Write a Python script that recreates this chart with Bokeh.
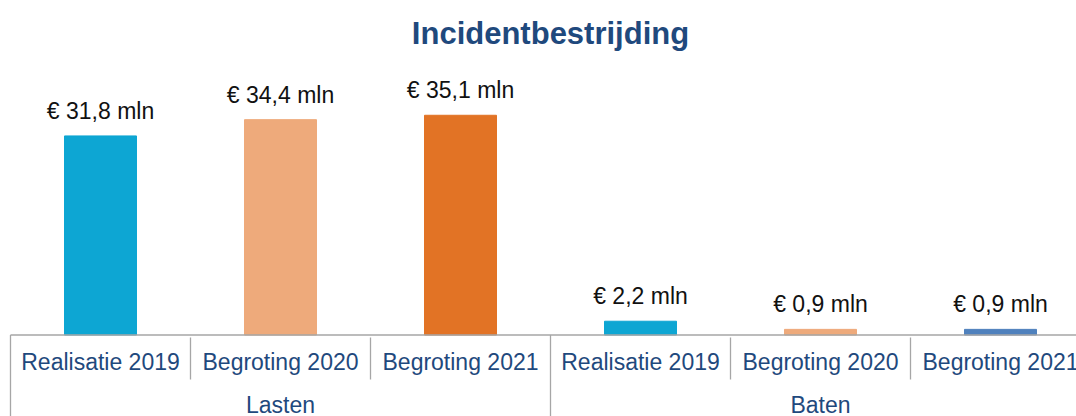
from bokeh.plotting import figure
from bokeh.models import ColumnDataSource, Range1d, LabelSet, Label
from bokeh.core.properties import value
from bokeh.embed import file_html
from bokeh.resources import INLINE

# ---- data ----
groups = ["Lasten", "Baten"]
categories = ["Realisatie 2019", "Begroting 2020", "Begroting 2021",
              "Realisatie 2019", "Begroting 2020", "Begroting 2021"]
group_of = ["Lasten", "Lasten", "Lasten", "Baten", "Baten", "Baten"]
amounts = [31.8, 34.4, 35.1, 2.2, 0.9, 0.9]
amount_labels = ["€ 31,8 mln", "€ 34,4 mln", "€ 35,1 mln",
                 "€ 2,2 mln", "€ 0,9 mln", "€ 0,9 mln"]
colors = ["#0DA6D3", "#EEAA7B", "#E27325", "#0DA6D3", "#EEAA7B", "#4F81BD"]
title_text = "Incidentbestrijding"

# ---- layout constants ----
W, H = 1076, 416
CAT_PX = 180.0          # width of one category in pixels
LEFT_PX = 10.0          # left edge of first category
BASE_PX = 334.5         # pixel row of the value axis baseline
PX_PER_UNIT = 6.26      # pixels per million euro

def ypix(py):
    return (BASE_PX - py) / PX_PER_UNIT

xs = list(range(len(categories)))

p = figure(width=W, height=H, output_backend="svg", toolbar_location=None,
           min_border=0, min_border_left=0, min_border_right=0,
           min_border_top=0, min_border_bottom=0)
p.x_range = Range1d(-0.5 - LEFT_PX / CAT_PX, -0.5 + (W - LEFT_PX) / CAT_PX)
p.y_range = Range1d(ypix(H), ypix(0))
p.axis.visible = False
p.grid.visible = False
p.outline_line_color = None
p.background_fill_color = "white"
p.border_fill_color = "white"

src = ColumnDataSource(dict(x=xs, top=amounts, color=colors, label=amount_labels,
                            cat=categories, grp=group_of))

p.vbar(x="x", top="top", bottom=0, width=0.4, color="color", source=src)

labels = LabelSet(x="x", y="top", text="label", source=src, y_offset=17,
                  text_align="center", text_baseline="alphabetic",
                  text_font=value("Liberation Sans"), text_font_size="23px",
                  text_color="#111111")
p.add_layout(labels)

GRID = "#A6A6A6"
# baseline of the category axis
p.segment(x0=[-0.5], y0=[0], x1=[len(categories) - 0.5], y1=[0],
          line_color=GRID, line_width=1.3)
# separators between categories
minor = [i + 0.5 for i in xs[:-1] if group_of[i] == group_of[i + 1]]
p.segment(x0=minor, y0=[ypix(337)] * len(minor), x1=minor, y1=[ypix(379)] * len(minor),
          line_color=GRID, line_width=1.3)
major = [-0.5] + [i + 0.5 for i in xs[:-1] if group_of[i] != group_of[i + 1]]
p.segment(x0=major, y0=[0] * len(major), x1=major, y1=[ypix(H + 5)] * len(major),
          line_color=GRID, line_width=1.3)

# category tick labels
p.text(x="x", y=ypix(361), text="cat", source=src, text_align="center",
       text_baseline="alphabetic", text_font=value("Liberation Sans"),
       text_font_size="23px", text_color="#1F497D")

# group labels
gx = [sum(i for i in xs if group_of[i] == g) / group_of.count(g) for g in groups]
p.text(x=gx, y=[ypix(404)] * len(groups), text=groups, text_align="center",
       text_baseline="alphabetic", text_font=value("Liberation Sans"),
       text_font_size="23px", text_color="#1F497D")

title = Label(x=550, y=H - 33, x_units="screen", y_units="screen", text=title_text,
              text_align="center", text_baseline="middle",
              text_font="Liberation Sans", text_font_size="31px",
              text_font_style="bold", text_color="#1F497D")
p.add_layout(title)

open("out.html", "w").write(file_html(p, INLINE))
